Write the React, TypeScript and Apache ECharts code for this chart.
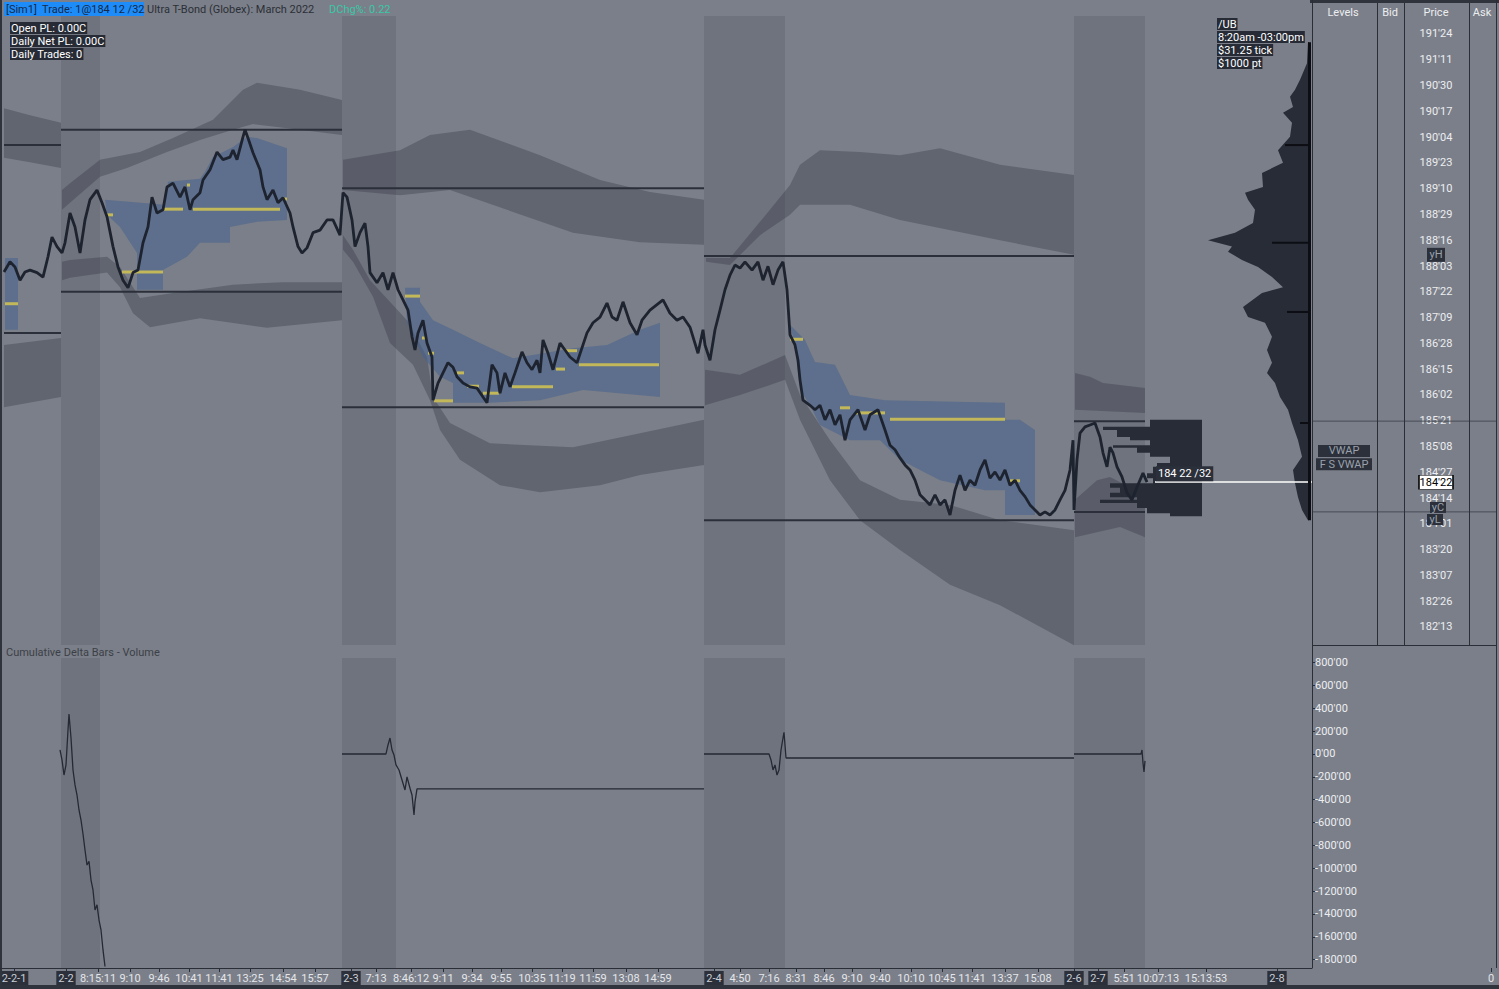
import { useEffect, useRef } from 'react';
import * as echarts from 'echarts';

const FONT = 'Roboto, "Noto Sans", sans-serif';
const BG = '#7b7f89';
const SHADE = '#6f737d';
const BAND = 'rgba(52, 56, 68, 0.36)';
const VALUE_AREA = 'rgba(70, 98, 142, 0.55)';
const PROFILE = '#272c37';
const LEVEL = '#2a2f3a';
const POC = '#c2b85a';
const LINE = '#1e2330';
const TEXT = '#eceef1';

// price ladder, in 32nds
const priceTickLabels = [
  "191'24", "191'11", "190'30", "190'17", "190'04", "189'23", "189'10", "188'29",
  "188'16", "188'03", "187'22", "187'09", "186'28", "186'15", "186'02", "185'21",
  "185'08", "184'27", "184'14", "184'01", "183'20", "183'07", "182'26", "182'13",
];
const lastPrice = "184'22";

const deltaTicks = [800, 600, 400, 200, 0, -200, -400, -600, -800, -1000, -1200, -1400, -1600, -1800];

const timeTickPos = [
  14, 66, 98, 130, 159, 189, 219, 250, 283, 315, 351, 376, 411, 443, 472, 501, 532, 562, 593, 626,
  658, 714, 740, 769, 796, 824, 852, 880, 911, 942, 972, 1005, 1038, 1074, 1098, 1124, 1158, 1206,
  1277, 1491,
];
const timeTickLabels = [
  '2-2-1', '2-2', '8:15:11', '9:10', '9:46', '10:41', '11:41', '13:25', '14:54', '15:57', '2-3',
  '7:13', '8:46:12', '9:11', '9:34', '9:55', '10:35', '11:19', '11:59', '13:08', '14:59', '2-4',
  '4:50', '7:16', '8:31', '8:46', '9:10', '9:40', '10:10', '10:45', '11:41', '13:37', '15:08',
  '2-6', '2-7', '5:51', '10:07:13', '15:13:53', '2-8', '0',
];
const dateLabels = ['2-2-1', '2-2', '2-3', '2-4', '2-6', '2-7', '2-8'];

// pre-market shading, bar index ranges
const sessionShade = [[61, 100], [342, 396], [704, 785], [1074, 1145]];

// [bar, price]
const priceLine = [
  [4, 188.0], [10, 188.16], [15, 188.08], [20, 187.87], [25, 188.0], [30, 188.03], [37, 187.99],
  [43, 187.92], [48, 188.24], [52, 188.55], [57, 188.4], [62, 188.3], [65, 188.46], [70, 188.93],
  [75, 188.71], [80, 188.3], [85, 188.82], [90, 189.14], [97, 189.29], [102, 189.09], [107, 188.87],
  [113, 188.4], [118, 188.08], [123, 187.87], [128, 187.75], [133, 187.99], [138, 188.03],
  [143, 188.46], [148, 188.71], [152, 189.18], [157, 188.93], [163, 188.98], [167, 189.34],
  [173, 189.4], [180, 189.18], [185, 189.34], [190, 188.98], [193, 189.14], [200, 189.25],
  [203, 189.45], [210, 189.61], [217, 189.89], [223, 189.77], [230, 189.81], [233, 189.92],
  [237, 189.77], [243, 190.13], [245, 190.24], [248, 190.11], [253, 189.88], [260, 189.61],
  [263, 189.34], [267, 189.14], [273, 189.29], [278, 189.09], [283, 189.17], [290, 188.93],
  [293, 188.71], [298, 188.4], [302, 188.3], [307, 188.38], [313, 188.62], [320, 188.66],
  [327, 188.82], [333, 188.82], [340, 188.58],
  [343, 189.25], [347, 189.18], [352, 188.82], [355, 188.4], [360, 188.62], [365, 188.77],
  [368, 188.4], [370, 187.99], [377, 187.83], [383, 187.99], [388, 187.72], [393, 187.99],
  [398, 187.72], [403, 187.56], [408, 187.4], [412, 186.98], [415, 186.77], [418, 187.04],
  [423, 187.24], [427, 186.88], [432, 186.66], [433, 185.98], [438, 186.25], [443, 186.41],
  [448, 186.57], [453, 186.5], [457, 186.35], [463, 186.25], [470, 186.19], [477, 186.17],
  [483, 186.03], [487, 185.94], [492, 186.54], [497, 186.41], [500, 186.09], [505, 186.41],
  [510, 186.19], [515, 186.41], [522, 186.74], [527, 186.57], [532, 186.46], [537, 186.61],
  [540, 186.41], [543, 186.93], [548, 186.72], [553, 186.46], [560, 186.88], [565, 186.77],
  [570, 186.66], [577, 186.57], [587, 187.04], [593, 187.2], [600, 187.29], [607, 187.51],
  [612, 187.29], [617, 187.24], [623, 187.53], [630, 187.2], [637, 187.01], [642, 187.24],
  [650, 187.4], [663, 187.56], [670, 187.35], [677, 187.24], [683, 187.29], [690, 187.13],
  [698, 186.72], [703, 187.09],
  [705, 186.85], [710, 186.61], [715, 187.09], [720, 187.4], [725, 187.72], [730, 187.95],
  [735, 188.11], [740, 188.06], [745, 188.16], [752, 188.03], [758, 188.16], [763, 187.87],
  [768, 188.09], [773, 187.8], [778, 188.03], [783, 188.16], [787, 187.72], [790, 187.01],
  [795, 186.85], [798, 186.61], [800, 186.3], [803, 185.98], [810, 185.9], [815, 185.83],
  [820, 185.9], [825, 185.67], [830, 185.83], [835, 185.59], [840, 185.75], [845, 185.35],
  [850, 185.67], [858, 185.83], [865, 185.51], [870, 185.75], [878, 185.83], [885, 185.51],
  [890, 185.27], [895, 185.2], [900, 185.07], [905, 184.96], [910, 184.88], [915, 184.72],
  [920, 184.49], [925, 184.41], [930, 184.33], [935, 184.49], [940, 184.33], [945, 184.41],
  [950, 184.17], [955, 184.56], [960, 184.8], [965, 184.56], [970, 184.72], [975, 184.64],
  [980, 184.88], [985, 185.04], [990, 184.75], [995, 184.85], [1000, 184.72], [1005, 184.88],
  [1010, 184.64], [1015, 184.72], [1020, 184.56], [1025, 184.46], [1030, 184.33], [1035, 184.25],
  [1040, 184.17], [1045, 184.22], [1050, 184.17], [1055, 184.25], [1060, 184.41], [1065, 184.56],
  [1070, 184.88], [1073, 185.35],
  [1074, 184.25], [1077, 185.04], [1080, 185.46], [1085, 185.56], [1090, 185.59], [1095, 185.62],
  [1100, 185.4], [1103, 185.15], [1107, 184.93], [1110, 185.24], [1113, 185.15], [1117, 184.93],
  [1122, 184.77], [1127, 184.52], [1132, 184.41], [1137, 184.61], [1140, 184.72], [1143, 184.83],
  [1147, 184.69],
];

// deviation bands per session: upper edge / lower edge, [bar, price]
const bands = [
  { top: [[4, 190.58], [30, 190.47], [61, 190.35]], bottom: [[4, 189.8], [30, 189.73], [61, 189.64]] },
  { top: [[4, 186.85], [61, 186.96]], bottom: [[4, 185.87], [61, 186.03]] },
  {
    top: [[62, 189.29], [70, 189.4], [100, 189.77], [140, 189.89], [173, 190.11], [213, 190.4], [243, 190.87], [257, 190.98], [300, 190.87], [342, 190.71]],
    bottom: [[62, 188.98], [70, 189.09], [100, 189.5], [127, 189.64], [167, 189.89], [200, 190.08], [233, 190.24], [253, 190.33], [300, 190.24], [342, 190.16]],
  },
  {
    top: [[62, 188.16], [70, 188.19], [107, 188.24], [120, 188.08], [140, 187.59], [173, 187.67], [233, 187.8], [283, 187.84], [342, 187.84]],
    bottom: [[62, 187.87], [70, 187.91], [107, 187.99], [120, 187.76], [133, 187.35], [150, 187.13], [200, 187.27], [267, 187.12], [342, 187.24]],
  },
  {
    top: [[343, 189.77], [400, 189.92], [430, 190.16], [470, 190.24], [540, 189.84], [600, 189.45], [650, 189.26], [704, 189.14]],
    bottom: [[343, 189.29], [400, 189.21], [450, 189.29], [507, 188.98], [573, 188.62], [640, 188.47], [704, 188.43]],
  },
  {
    top: [[343, 188.58], [353, 188.35], [370, 187.87], [407, 187.24], [427, 186.66], [433, 186.03], [450, 185.62], [490, 185.3], [573, 185.24], [640, 185.46], [704, 185.67]],
    bottom: [[343, 188.35], [353, 188.16], [373, 187.61], [390, 186.88], [413, 186.54], [430, 185.98], [440, 185.51], [460, 185.04], [500, 184.64], [540, 184.53], [600, 184.64], [640, 184.8], [704, 184.96]],
  },
  {
    top: [[706, 188.22], [730, 188.22], [760, 188.79], [790, 189.37], [800, 189.69], [820, 189.92], [860, 189.89], [900, 189.84], [940, 189.95], [1000, 189.69], [1074, 189.53]],
    bottom: [[706, 188.16], [730, 188.11], [760, 188.58], [790, 188.9], [800, 189.06], [850, 189.06], [900, 188.82], [1000, 188.5], [1074, 188.27]],
  },
  {
    top: [[705, 186.46], [740, 186.38], [785, 186.69], [800, 186.06], [830, 185.35], [860, 184.72], [900, 184.41], [950, 184.33], [1000, 184.09], [1074, 183.93]],
    bottom: [[705, 185.9], [740, 186.06], [785, 186.3], [800, 185.67], [830, 184.72], [860, 184.09], [900, 183.62], [950, 183.07], [1000, 182.75], [1074, 182.12]],
  },
  { top: [[1075, 186.41], [1090, 186.35], [1103, 186.25], [1120, 186.22], [1145, 186.17]], bottom: [[1075, 185.83], [1145, 185.78]] },
  { top: [[1075, 184.41], [1097, 184.72], [1110, 184.77], [1130, 184.61], [1145, 184.41]], bottom: [[1075, 183.82], [1120, 183.98], [1145, 183.82]] },
];

// TPO value areas, outline [bar, price]
const valueAreas = [
  [[5, 188.22], [18, 188.22], [18, 187.09], [5, 187.09]],
  [[105, 189.14], [165, 189.06], [168, 189.42], [200, 189.47], [205, 189.58], [213, 189.81], [233, 189.97], [247, 190.13], [257, 190.11], [287, 189.95], [287, 188.82], [257, 188.79], [230, 188.71], [230, 188.46], [200, 188.46], [187, 188.24], [163, 188.03], [163, 187.72], [137, 187.72], [137, 188.3], [120, 188.71], [107, 188.9]],
  [[405, 187.75], [420, 187.75], [420, 187.53], [433, 187.24], [453, 187.09], [480, 186.88], [513, 186.64], [573, 186.8], [607, 186.85], [640, 187.09], [660, 187.2], [660, 186.03], [583, 186.14], [540, 185.98], [490, 185.94], [453, 185.94], [453, 186.25], [440, 186.35], [423, 186.66], [407, 187.2]],
  [[790, 187.17], [805, 186.93], [815, 186.58], [835, 186.54], [850, 186.06], [885, 185.98], [1005, 185.94], [1005, 185.67], [1020, 185.67], [1035, 185.51], [1035, 184.17], [1005, 184.17], [1005, 184.56], [985, 184.56], [940, 184.72], [900, 185.04], [880, 185.35], [850, 185.35], [820, 185.59], [810, 185.9], [800, 186.14], [795, 186.85]],
];

// [fromBar, toBar, price]
const levelLines = [
  [4, 61, 190.0], [4, 61, 187.04], [61, 342, 190.24], [61, 342, 187.69], [342, 704, 189.32],
  [342, 704, 185.87], [704, 1074, 188.25], [704, 1074, 184.09], [1074, 1145, 185.65], [1074, 1145, 184.22],
];
const ladderLines = [[1312, 1496, 185.65], [1312, 1496, 184.22]];
const pocSegments = [
  [5, 18, 187.5], [107, 113, 188.9], [122, 163, 188.0], [163, 183, 188.99], [193, 280, 188.99],
  [187, 190, 189.37], [283, 287, 189.15], [405, 420, 187.62], [422, 427, 186.96], [428, 434, 186.72],
  [434, 453, 185.97], [457, 464, 186.41], [467, 479, 186.2], [483, 499, 186.09], [512, 553, 186.19],
  [556, 565, 186.47], [566, 577, 186.76], [579, 659, 186.54], [790, 803, 186.94], [840, 850, 185.86],
  [855, 885, 185.78], [890, 1005, 185.68], [1010, 1020, 184.71],
];

// multi-day volume profile (right edge)
const profilePrices = [
  191.62, 191.29, 191.03, 190.87, 190.76, 190.6, 190.51, 190.35, 190.13, 189.92, 189.72, 189.56,
  189.34, 189.25, 189.14, 188.98, 188.77, 188.62, 188.5, 188.4, 188.32, 188.19, 188.08, 187.92,
  187.76, 187.67, 187.45, 187.29, 187.2, 186.98, 186.77, 186.57, 186.41, 186.25, 186.03, 185.83,
  185.62, 185.35, 185.09, 184.88, 184.67, 184.45, 184.25, 184.09,
];
const profileVolume = [
  1, 2, 9, 14, 19, 16, 26, 17, 19, 31, 26, 47, 46, 64, 61, 54, 56, 74, 101, 77, 81, 67, 51, 37,
  26, 47, 66, 61, 44, 37, 42, 37, 42, 34, 29, 21, 17, 11, 7, 16, 14, 11, 7, 1,
];
const profileHighVolume = [[1285, 1309, 190.0], [1272, 1309, 188.46], [1287, 1309, 187.37], [1300, 1309, 185.62]];

// current session profile
const sessionProfilePrices = [
  185.67, 185.56, 185.51, 185.4, 185.35, 185.27, 185.23, 185.15, 185.09, 184.99, 184.93, 184.83,
  184.75, 184.67, 184.6, 184.52, 184.45, 184.41, 184.36, 184.28, 184.2,
];
const sessionProfileVolume = [52, 99, 85, 72, 52, 89, 65, 52, 32, 45, 49, 55, 49, 92, 82, 92, 65, 102, 65, 55, 32];

// cumulative delta per session, [bar, delta]
const deltaSessions = [
  [[60, 35], [62, -52], [64, -184], [66, -96], [68, 210], [69, 350], [71, 140], [73, -140], [75, -271], [77, -359], [79, -490], [81, -578], [83, -700], [85, -840], [87, -972], [89, -940], [91, -1103], [93, -1190], [95, -1365], [97, -1320], [99, -1453], [101, -1540], [103, -1715], [105, -1860]],
  [[342, 0], [386, 0], [388, 79], [390, 140], [392, 35], [394, -9], [396, -96], [399, -140], [402, -228], [405, -315], [407, -200], [410, -300], [412, -359], [414, -534], [415, -420], [417, -306], [704, -306]],
  [[704, 0], [769, 0], [771, -52], [773, -140], [775, -96], [777, -184], [779, -140], [781, 35], [783, 140], [784, 190], [786, -35], [1074, -35]],
  [[1074, 0], [1141, 0], [1142, 35], [1143, -80], [1144, -158], [1145, -60]],
];

const ladderTagNames = ['VWAP', 'F S VWAP', 'yH', 'yC', 'yL'];
const ladderTagPrices = [185.18, 184.97, 188.27, 184.29, 184.1];

const parse32 = (s: string) => {
  const [a, b] = s.split("'");
  return Number(a) + Number(b) / 32;
};

const priceTickValues = priceTickLabels.map(parse32);

function segmentSeries(segs: number[][], color: string, width: number, z: number) {
  return {
    type: 'custom',
    xAxisIndex: 0,
    yAxisIndex: 0,
    z,
    silent: true,
    data: segs.map((_, i) => i),
    renderItem: (params: any, api: any) => {
      const [x1, x2, p] = segs[params.dataIndex];
      const a = api.coord([x1, p]);
      const b = api.coord([x2, p]);
      return {
        type: 'line',
        shape: { x1: a[0], y1: a[1], x2: b[0], y2: b[1] },
        style: { stroke: color, lineWidth: width },
      };
    },
  };
}

function polygonSeries(polys: number[][][], fill: string, z: number) {
  return {
    type: 'custom',
    xAxisIndex: 0,
    yAxisIndex: 0,
    z,
    silent: true,
    data: polys.map((_, i) => i),
    renderItem: (params: any, api: any) => ({
      type: 'polygon',
      shape: { points: polys[params.dataIndex].map((pt) => api.coord(pt)) },
      style: { fill },
    }),
  };
}

function profileSeries(anchor: number, prices: number[], vols: number[], step: boolean) {
  return {
    type: 'custom',
    xAxisIndex: 0,
    yAxisIndex: 0,
    z: 4,
    silent: true,
    data: [0],
    renderItem: (_params: any, api: any) => {
      const pts: number[][] = [];
      const last = prices.length - 1;
      const end = step ? prices[last] - 0.05 : prices[last];
      pts.push(api.coord([anchor, prices[0]]));
      prices.forEach((p, i) => {
        pts.push(api.coord([anchor - vols[i], p]));
        if (step) pts.push(api.coord([anchor - vols[i], i < last ? prices[i + 1] : end]));
      });
      pts.push(api.coord([anchor, end]));
      return { type: 'polygon', shape: { points: pts }, style: { fill: PROFILE } };
    },
  };
}

function label(text: string, x: number, y: number, extra: any = {}) {
  return {
    type: 'text',
    x,
    y,
    z: 100,
    silent: true,
    style: { text, fill: TEXT, fontSize: 11, fontFamily: FONT, verticalAlign: 'middle', ...extra },
  };
}

function vline(x: number, y1: number, y2: number, color = '#2a2e37') {
  return { type: 'line', z: 90, silent: true, shape: { x1: x, y1, x2: x, y2 }, style: { stroke: color, lineWidth: 1 } };
}

function box(x: number, y: number, width: number, height: number, fill: string) {
  return { type: 'rect', z: 90, silent: true, shape: { x, y, width, height }, style: { fill } };
}

function buildOption(): any {
  const tagStyle = [
    { x: 1344, size: [52, 12] },
    { x: 1344, size: [56, 12] },
    { x: 1436, size: [18, 14] },
    { x: 1438, size: [16, 11] },
    { x: 1435, size: [16, 11] },
  ];
  const lastValue = parse32(lastPrice);
  const boxText = { fill: '#ffffff', backgroundColor: '#262b35', padding: [1, 1, 0, 1] };
  const shadeArea = {
    silent: true,
    itemStyle: { color: SHADE },
    data: sessionShade.map(([a, b]) => [{ xAxis: a }, { xAxis: b }]),
  };

  return {
    animation: false,
    backgroundColor: BG,
    textStyle: { fontFamily: FONT },
    grid: [
      { left: 0, right: 3, top: 16, height: 629, outerBoundsMode: 'none' },
      { left: 0, right: 3, top: 658, height: 310, outerBoundsMode: 'none' },
    ],
    xAxis: [
      { gridIndex: 0, type: 'value', min: 0, max: 1496, show: false },
      {
        gridIndex: 1,
        type: 'value',
        min: 0,
        max: 1496,
        axisLine: { show: false, onZero: false },
        splitLine: { show: false },
        axisTick: { show: true, length: 4, customValues: timeTickPos, lineStyle: { color: '#2a2e37' } },
        axisLabel: {
          customValues: timeTickPos,
          margin: 3,
          fontSize: 11,
          fontFamily: FONT,
          color: TEXT,
          formatter: (v: number) => {
            const s = timeTickLabels[timeTickPos.indexOf(Math.round(v))] ?? '';
            return dateLabels.includes(s) ? `{d|${s}}` : `{t|${s}}`;
          },
          rich: {
            d: { backgroundColor: '#2b303b', color: '#c9cdd4', padding: [2, 2], fontSize: 11, fontFamily: FONT },
            t: { color: '#e4e6ea', padding: [2, 0], fontSize: 11, fontFamily: FONT },
          },
        },
      },
    ],
    yAxis: [
      {
        gridIndex: 0,
        type: 'value',
        position: 'right',
        min: 182.1224,
        max: 192.0336,
        axisLine: { show: false, onZero: false },
        axisTick: { show: false },
        splitLine: { show: false },
        axisLabel: {
          inside: true,
          margin: 60,
          align: 'center',
          customValues: priceTickValues,
          color: TEXT,
          fontSize: 11,
          fontFamily: FONT,
          formatter: (v: number) => {
            const i = priceTickValues.findIndex((t) => Math.abs(t - v) < 1e-6);
            return i >= 0 ? priceTickLabels[i] : '';
          },
        },
      },
      {
        gridIndex: 1,
        type: 'value',
        position: 'right',
        offset: -184,
        min: -1873,
        max: 840,
        splitLine: { show: false },
        axisLine: { show: true, onZero: false, lineStyle: { color: '#2a2e37' } },
        axisTick: { show: true, length: 3, customValues: deltaTicks, lineStyle: { color: '#2a2e37' } },
        axisLabel: {
          customValues: deltaTicks,
          margin: 3,
          color: TEXT,
          fontSize: 11,
          fontFamily: FONT,
          formatter: (v: number) => `${v}'00`,
        },
      },
    ],
    series: [
      {
        type: 'custom',
        xAxisIndex: 0,
        yAxisIndex: 0,
        z: 2,
        silent: true,
        data: bands.map((_, i) => i),
        renderItem: (params: any, api: any) => {
          const b = bands[params.dataIndex];
          const pts = [...b.top, ...b.bottom.slice().reverse()].map((pt) => api.coord(pt));
          return { type: 'polygon', shape: { points: pts }, style: { fill: BAND } };
        },
      },
      polygonSeries(valueAreas, VALUE_AREA, 3),
      segmentSeries(levelLines, LEVEL, 2, 4),
      segmentSeries(ladderLines, '#474b55', 1, 4),
      profileSeries(1309, profilePrices, profileVolume, false),
      profileSeries(1202, sessionProfilePrices, sessionProfileVolume, true),
      segmentSeries(profileHighVolume, '#0c0e13', 2, 5),
      {
        type: 'line',
        xAxisIndex: 0,
        yAxisIndex: 0,
        z: 5,
        silent: true,
        symbol: 'none',
        data: [[1309.5, profilePrices[0]], [1309.5, profilePrices[profilePrices.length - 1]]],
        lineStyle: { color: '#0c0e13', width: 3 },
      },
      segmentSeries(pocSegments, POC, 3, 5),
      {
        type: 'line',
        xAxisIndex: 0,
        yAxisIndex: 0,
        z: 6,
        silent: true,
        symbol: 'none',
        data: priceLine,
        lineStyle: { color: LINE, width: 2.8 },
        markArea: shadeArea,
        markLine: {
          silent: true,
          symbol: ['none', 'none'],
          lineStyle: { color: '#ffffff', width: 1.5, type: 'solid' },
          label: {
            show: true,
            position: 'insideStartTop',
            formatter: lastPrice.replace("'", ' ') + ' /32',
            color: '#ffffff',
            backgroundColor: '#2b303b',
            padding: [2, 2],
            distance: 1,
            fontSize: 11,
            fontFamily: FONT,
          },
          data: [[{ coord: [1155, lastValue] }, { coord: [1312, lastValue] }]],
        },
      },
      {
        type: 'scatter',
        xAxisIndex: 0,
        yAxisIndex: 0,
        z: 7,
        silent: true,
        symbol: 'rect',
        itemStyle: { color: '#2b303b', opacity: 1 },
        label: { show: true, position: 'inside', formatter: '{b}', color: '#9ba1ab', fontSize: 11, fontFamily: FONT },
        data: [
          ...ladderTagNames.map((name, i) => ({
            name,
            value: [tagStyle[i].x, ladderTagPrices[i]],
            symbolSize: tagStyle[i].size,
          })),
          {
            name: lastPrice,
            value: [1436, lastValue],
            symbolSize: [34, 14],
            itemStyle: { color: '#ffffff', borderColor: '#000000', borderWidth: 1 },
            label: { color: '#000000' },
          },
        ],
      },
      ...deltaSessions.map((d, i) => ({
        type: 'line',
        xAxisIndex: 1,
        yAxisIndex: 1,
        z: 6,
        silent: true,
        symbol: 'none',
        data: d,
        lineStyle: { color: '#242933', width: 1.3 },
        markArea: i === 0 ? shadeArea : undefined,
      })),
    ],
    graphic: [
      box(0, 0, 2, 989, '#2f333c'),
      box(0, 985, 1499, 4, '#2f333c'),
      box(1310, 0, 189, 3, '#2f333c'),
      vline(1312.5, 0, 968),
      vline(1377.5, 3, 645),
      vline(1404.5, 3, 645),
      vline(1469.5, 3, 645),
      vline(1496.5, 0, 968),
      { type: 'line', z: 90, silent: true, shape: { x1: 1312, y1: 645.5, x2: 1496, y2: 645.5 }, style: { stroke: '#2a2e37', lineWidth: 1 } },
      { type: 'line', z: 90, silent: true, shape: { x1: 0, y1: 968.5, x2: 1312, y2: 968.5 }, style: { stroke: '#2a2e37', lineWidth: 1 } },
      box(4, 2, 140, 14, '#1d8cf8'),
      label('[Sim1]  Trade: 1@184 12 /32', 6, 9.5, { fill: '#17284a' }),
      label('Ultra T-Bond (Globex): March 2022', 147, 9.5, { fill: '#2b2f37' }),
      label('DChg%: 0.22', 329, 9.5, { fill: '#39c8a6' }),
      label('Open PL: 0.00C', 10, 28, boxText),
      label('Daily Net PL: 0.00C', 10, 41, boxText),
      label('Daily Trades: 0', 10, 54, boxText),
      label('/UB', 1217, 24, boxText),
      label('8:20am -03:00pm', 1217, 37, boxText),
      label('$31.25 tick', 1217, 50, boxText),
      label('$1000 pt', 1217, 63, boxText),
      label('Levels', 1343, 12, { align: 'center' }),
      label('Bid', 1390, 12, { align: 'center' }),
      label('Price', 1436, 12, { align: 'center' }),
      label('Ask', 1482, 12, { align: 'center' }),
      label('Cumulative Delta Bars - Volume', 6, 652, { fill: '#3b3f48' }),
    ],
  };
}

export default function App() {
  const chartRef = useRef<HTMLDivElement>(null);

  useEffect(() => {
    document.body.style.margin = '0';
    if (!chartRef.current) return;
    const chart = echarts.init(chartRef.current, undefined, { renderer: 'svg' });
    chart.setOption(buildOption());
    return () => chart.dispose();
  }, []);

  return <div ref={chartRef} style={{ width: 1499, height: 989, background: BG }} />;
}
